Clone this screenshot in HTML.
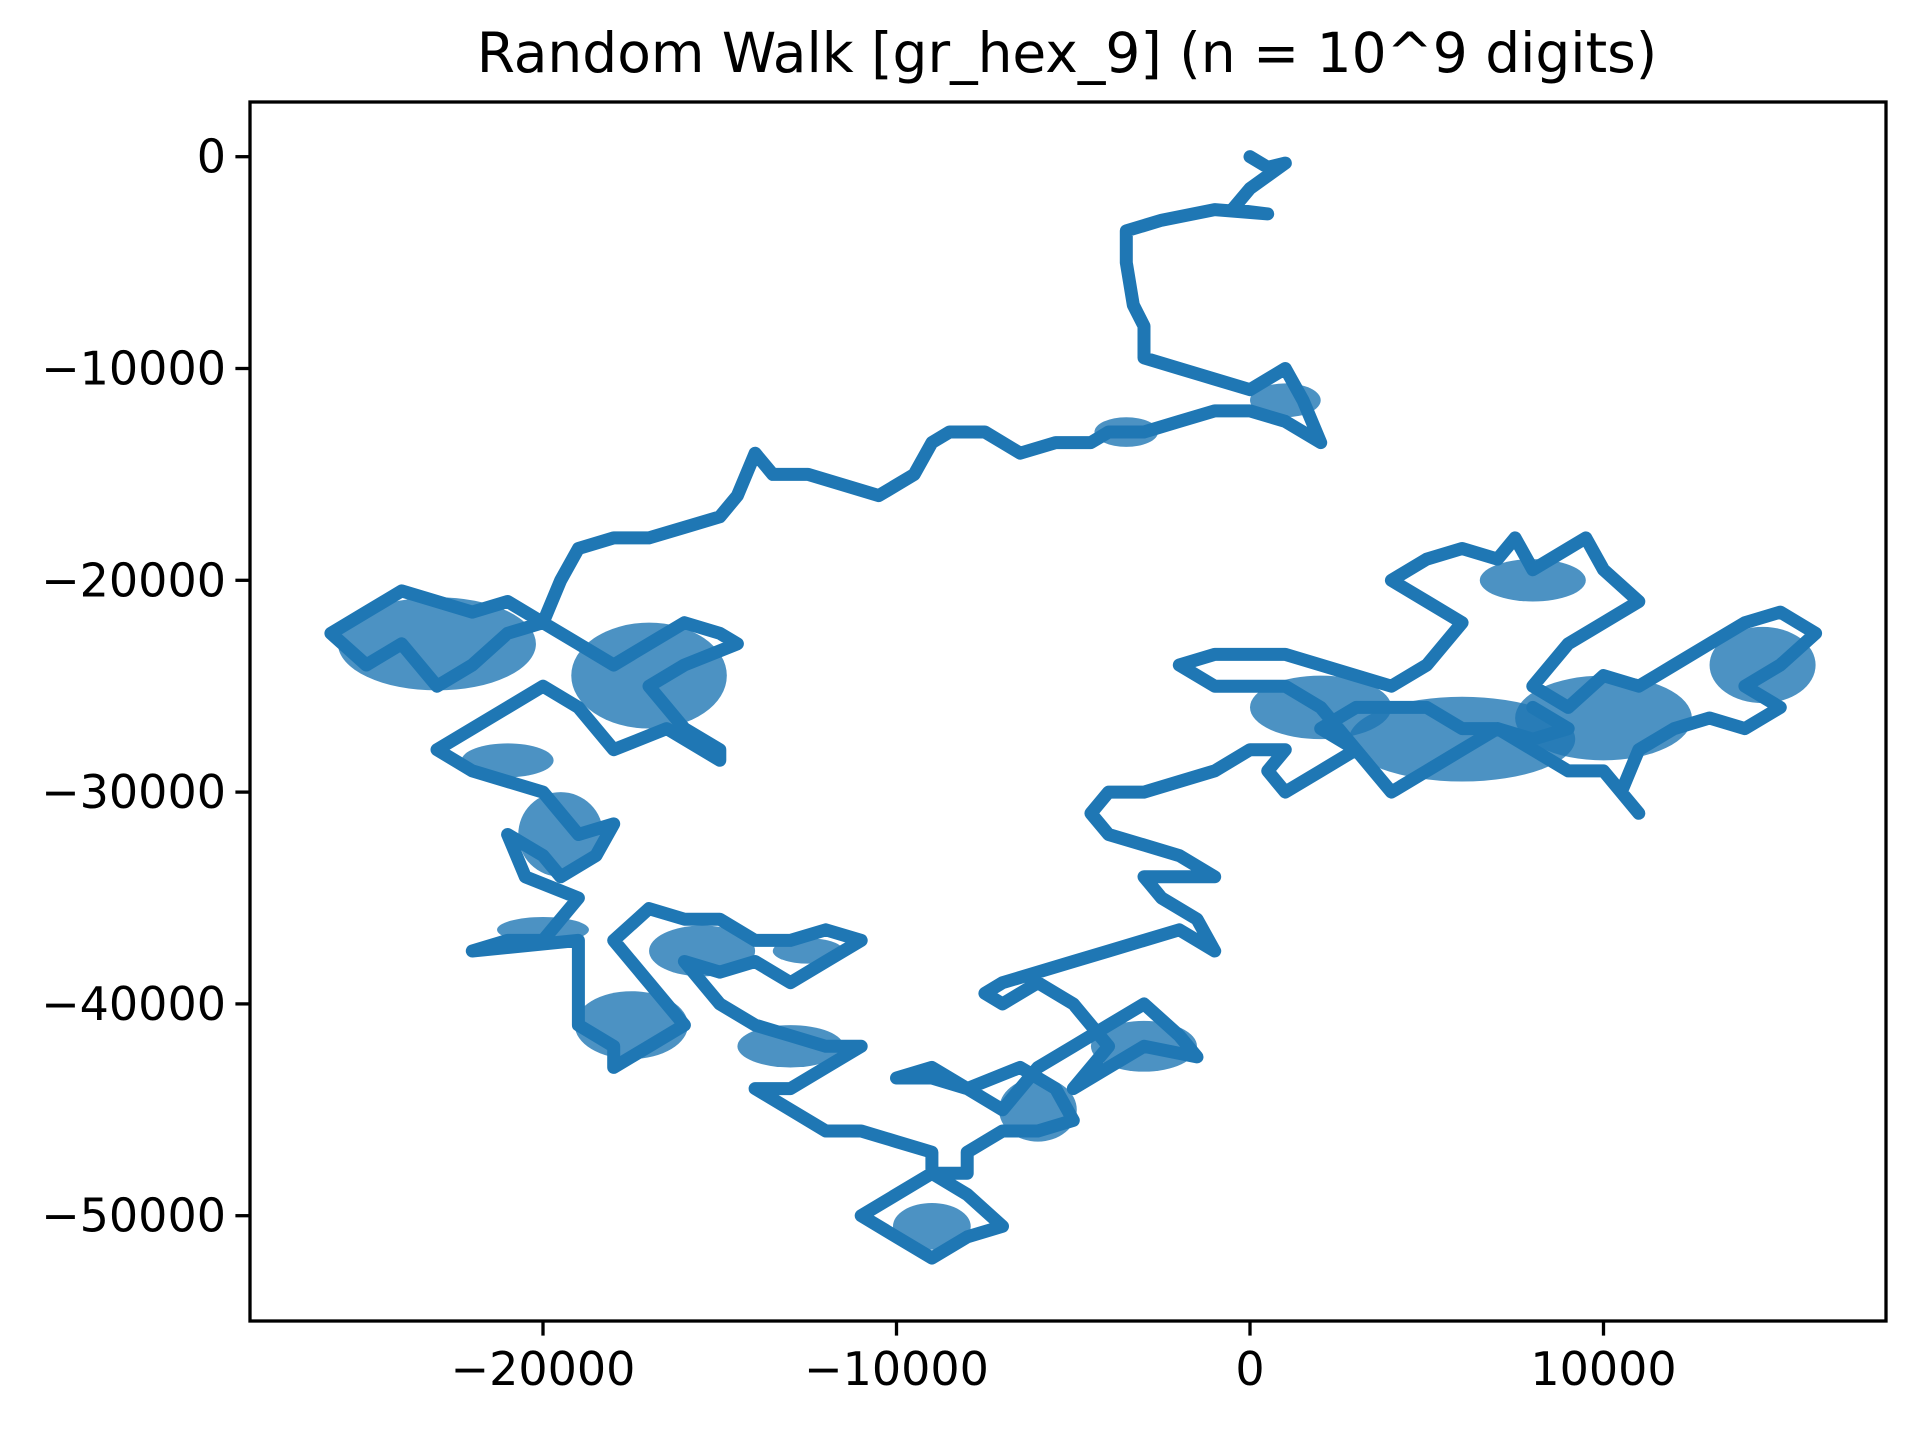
<!DOCTYPE html>
<html><head><meta charset="utf-8"><style>
html,body{margin:0;padding:0;background:#fff;}
svg{display:block;font-family:"DejaVu Sans","Liberation Sans",sans-serif;}
</style></head><body>
<svg id="chart" width="1920" height="1432" viewBox="0 0 1920 1432">
<rect width="1920" height="1432" fill="#fff"/>
<text x="1067" y="72" font-size="55" text-anchor="middle" fill="#000">Random Walk [gr_hex_9] (n = 10^9 digits)</text>
<g id="plot"></g>
<g id="axes"></g>
</svg>
<script>
const xTicks=[-20000,-10000,0,10000];
const yTicks=[0,-10000,-20000,-30000,-40000,-50000];
const walkX=[0,0.5,1,0,-0.5,0.5,-1,-2.5,-3.5,-3.5,-3.3,-3,-3,-2,-1,0,1,1.5,2,1,0,-1,-2,-3,-4,-4.5,-5.5,-6.5,-7,-7.5,-8.5,-9,-9.5,-10.5,-11.5,-12.5,-13.5,-14,-14.5,-15,-16,-17,-18,-19,-19.5,-20,-21,-22,-23,-24,-25,-26,-25,-24,-23,-22,-21,-20,-19,-18,-17,-16,-15,-14.5,-16,-17,-16,-15,-15,-16.5,-18,-19,-20,-21,-22,-23,-22,-21,-20,-19.5,-19,-18,-18.5,-19.5,-20,-21,-20.5,-19,-19.5,-20,-21,-22,-19,-19,-19,-18,-18,-17,-16,-17,-18,-17,-16,-15,-14,-13,-12,-11,-12,-13,-14,-15,-16,-15,-14,-13,-12,-11,-12,-13,-14,-13,-12,-11,-10,-9,-9,-10,-11,-10,-9,-8,-7,-8,-9,-8,-8,-7,-6,-5,-5.5,-6.5,-8,-9,-10,-9,-8,-7,-6,-5,-4,-3,-2,-1.5,-3,-4,-5,-4,-5,-6,-7,-7.5,-7,-6,-5,-4,-3,-2,-1,-1.5,-2.5,-3,-2,-1,-2,-3,-4,-4.5,-4,-3,-2,-1,0,1,0.5,1,2,3,2,1,-1,-2,-1,1,2,3,4,5,6,5,4,5,6,7,7.5,8,9,9.5,10,11,10,9,8,9,10,11,12,13,14,15,16,15,14,15,14,13,12,11,10.5,11,10,9,8,7,6,5,4,3,2,3,5,6,7,8,9,8];
const walkY=[0,-0.5,-0.3,-1.5,-2.5,-2.7,-2.5,-3,-3.5,-5,-7,-8,-9.5,-10,-10.5,-11,-10,-11.5,-13.5,-12.5,-12,-12,-12.5,-13,-13,-13.5,-13.5,-14,-13.5,-13,-13,-13.5,-15,-16,-15.5,-15,-15,-14,-16,-17,-17.5,-18,-18,-18.5,-20,-22,-21,-21.5,-21,-20.5,-21.5,-22.5,-24,-23,-25,-24,-22.5,-22,-23,-24,-23,-22,-22.5,-23,-24,-25,-27,-28,-28.5,-27,-28,-26,-25,-26,-27,-28,-29,-29.5,-30,-31,-32,-31.5,-33,-34,-33,-32,-34,-35,-36,-37,-37,-37.5,-37,-39,-41,-42,-43,-42,-41,-39,-37,-35.5,-36,-36,-37,-37,-36.5,-37,-38,-39,-38,-38.5,-38,-40,-41,-41.5,-42,-42,-43,-44,-44,-45,-46,-46,-46.5,-47,-48,-49,-50,-51,-52,-51,-50.5,-49,-48,-48,-47,-46,-46,-45.5,-44,-43,-44,-43.5,-43.5,-43,-44,-45,-43,-42,-41,-40,-41.5,-42.5,-42,-43,-44,-42,-40,-39,-40,-39.5,-39,-38.5,-38,-37.5,-37,-36.5,-37.5,-36,-35,-34,-34,-34,-33,-32.5,-32,-31,-30,-30,-29.5,-29,-28,-28,-29,-30,-29,-28,-26,-25,-25,-24,-23.5,-23.5,-24,-24.5,-25,-24,-22,-21,-20,-19,-18.5,-19,-18,-19.5,-18.5,-18,-19.5,-21,-22,-23,-25,-26,-24.5,-25,-24,-23,-22,-21.5,-22.5,-24,-25,-26,-27,-26.5,-27,-28,-30,-31,-29,-29,-28,-27,-28,-29,-30,-28,-27,-26,-26,-27,-27,-27.5,-27,-26];
// dense clusters of the walk (centre x, centre y, half-width, half-height; thousands)
const blobX=[-23,-17,-19.5,-17.5,-13,-15.5,-9,-6,-3,6,2,14.5,10,-3.5,1,-21,-20,-12.5,8];
const blobY=[-23,-24.5,-32,-41,-42,-37.5,-50.5,-45,-42,-27.5,-26,-24,-26.5,-13,-11.5,-28.5,-36.5,-37.5,-20];
const blobW=[2.8,2.2,1.2,1.6,1.5,1.5,1.1,1.1,1.5,3.2,2,1.5,2.5,0.9,1,1.3,1.3,1,1.5];
const blobH=[2.2,2.5,2,1.6,1,1.2,1.1,1.5,1.2,2,1.5,1.8,2,0.7,0.8,0.8,0.6,0.6,1];
const NS="http://www.w3.org/2000/svg";
const L=250,R=1886,T=102,B=1321;
function sx(v){return 1250+v*0.03535;}
function sy(v){return 156.7-v*0.02118;}
const plot=document.getElementById('plot'),axes=document.getElementById('axes');
for(let i=0;i<blobX.length;i++){
 const e=document.createElementNS(NS,'ellipse');
 e.setAttribute('cx',sx(blobX[i]*1000));e.setAttribute('cy',sy(blobY[i]*1000));
 e.setAttribute('rx',blobW[i]*1000*0.03535);e.setAttribute('ry',blobH[i]*1000*0.02118);
 e.setAttribute('fill','#1f77b4');e.setAttribute('fill-opacity','0.8');
 
 
 plot.appendChild(e);
}
let d='';
for(let i=0;i<walkX.length;i++){d+=(i?'L':'M')+sx(walkX[i]*1000).toFixed(1)+' '+sy(walkY[i]*1000).toFixed(1);}
const p=document.createElementNS(NS,'path');
p.setAttribute('d',d);p.setAttribute('fill','none');p.setAttribute('stroke','#1f77b4');
p.setAttribute('stroke-width','13');p.setAttribute('stroke-linejoin','round');p.setAttribute('stroke-linecap','round');


plot.appendChild(p);
const frame=document.createElementNS(NS,'rect');
frame.setAttribute('x',L);frame.setAttribute('y',T);frame.setAttribute('width',R-L);frame.setAttribute('height',B-T);
frame.setAttribute('fill','none');frame.setAttribute('stroke','#000');frame.setAttribute('stroke-width','3.3');


axes.appendChild(frame);
function lab(v){return v<0?'\u2212'+(-v):String(v);}
xTicks.forEach(v=>{
 const x=sx(v);
 const t=document.createElementNS(NS,'line');
 t.setAttribute('x1',x);t.setAttribute('x2',x);t.setAttribute('y1',B);t.setAttribute('y2',B+14.6);
 t.setAttribute('stroke','#000');t.setAttribute('stroke-width','3.3');
 
 
 axes.appendChild(t);
 const s=document.createElementNS(NS,'text');
 s.setAttribute('x',x);s.setAttribute('y',B+64);s.setAttribute('font-size','46');s.setAttribute('text-anchor','middle');
 s.textContent=lab(v);
 
 
 axes.appendChild(s);
});
yTicks.forEach(v=>{
 const y=sy(v);
 const t=document.createElementNS(NS,'line');
 t.setAttribute('x1',L-14.6);t.setAttribute('x2',L);t.setAttribute('y1',y);t.setAttribute('y2',y);
 t.setAttribute('stroke','#000');t.setAttribute('stroke-width','3.3');
 
 
 axes.appendChild(t);
 const s=document.createElementNS(NS,'text');
 s.setAttribute('x',L-24);s.setAttribute('y',y+16);s.setAttribute('font-size','46');s.setAttribute('text-anchor','end');
 s.textContent=lab(v);
 
 
 axes.appendChild(s);
});
</script>
</body></html>
